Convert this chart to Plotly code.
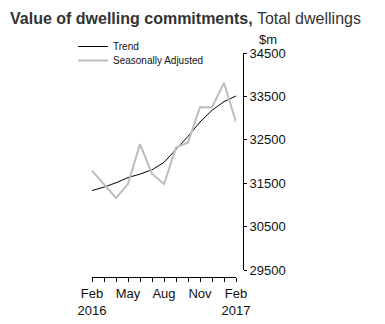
import plotly.graph_objects as go

months = ["Feb 2016", "Mar 2016", "Apr 2016", "May 2016", "Jun 2016", "Jul 2016",
          "Aug 2016", "Sep 2016", "Oct 2016", "Nov 2016", "Dec 2016", "Jan 2017", "Feb 2017"]
trend = [31330, 31410, 31510, 31630, 31710, 31810, 31980, 32280, 32580, 32910, 33180, 33380, 33510]
seas_adj = [31790, 31480, 31160, 31480, 32400, 31720, 31480, 32320, 32440, 33250, 33250, 33810, 32910]
tick_text = ["Feb<br>2016", "", "", "May", "", "", "Aug", "", "", "Nov", "", "", "Feb<br>2017"]
y_ticks = [29500, 30500, 31500, 32500, 33500, 34500]
y_tick_text = [str(v) for v in y_ticks]

W, H = 385, 324
ml, mr, mt, mb = 92, 142, 53, 47
plot_w = W - ml - mr
plot_h = H - mt - mb

fig = go.Figure()
fig.add_trace(go.Scatter(x=months, y=trend, mode="lines", name="Trend",
                         line=dict(color="#000000", width=1), legend="legend"))
fig.add_trace(go.Scatter(x=months, y=seas_adj, mode="lines", name="Seasonally Adjusted",
                         line=dict(color="#bdbdbd", width=2), legend="legend2"))

tick_font = dict(family="Liberation Sans, Arial, sans-serif", size=13, color="#111111")
leg_font = dict(family="Liberation Sans, Arial, sans-serif", size=10, color="#111111")
leg_x = (73 - ml) / plot_w

fig.update_layout(
    width=W, height=H,
    margin=dict(l=ml, r=mr, t=mt, b=mb, autoexpand=False),
    paper_bgcolor="white", plot_bgcolor="white",
    showlegend=True,
    legend=dict(x=leg_x, y=1 + 21 / plot_h, xanchor="left", yanchor="top",
                font=leg_font, bgcolor="rgba(0,0,0,0)", itemwidth=30),
    legend2=dict(x=leg_x, y=1 + 7 / plot_h, xanchor="left", yanchor="top",
                 font=leg_font, bgcolor="rgba(0,0,0,0)", itemwidth=30),
    xaxis=dict(type="category", tickmode="array", tickvals=months, ticktext=tick_text,
               range=[0, 12], domain=[0, 144 / plot_w],
               showline=True, linecolor="#000000", linewidth=1,
               ticks="outside", ticklen=4, tickcolor="#000000",
               showgrid=False, zeroline=False, tickfont=tick_font,
               anchor="free", position=0),
    yaxis=dict(range=[29500, 34500], tickmode="array", tickvals=y_ticks, ticktext=y_tick_text,
               side="right", anchor="free", position=1, domain=[7 / plot_h, 1],
               showline=True, linecolor="#000000", linewidth=1,
               ticks="outside", ticklen=3, tickcolor="#000000",
               showgrid=False, zeroline=False, tickfont=tick_font),
    annotations=[
        dict(text="<b>Value of dwelling commitments,</b> Total dwellings",
             xref="paper", yref="paper", x=(8 - ml) / plot_w, y=1 + 35 / plot_h,
             xanchor="left", yanchor="middle", showarrow=False,
             font=dict(family="Liberation Sans, Arial, sans-serif", size=16, color="#333333")),
        dict(text="$m", xref="paper", yref="paper", x=1 + 14 / plot_w, y=1 + 14 / plot_h,
             xanchor="left", yanchor="middle", showarrow=False,
             font=tick_font),
    ],
)

fig.write_html("out.html")
